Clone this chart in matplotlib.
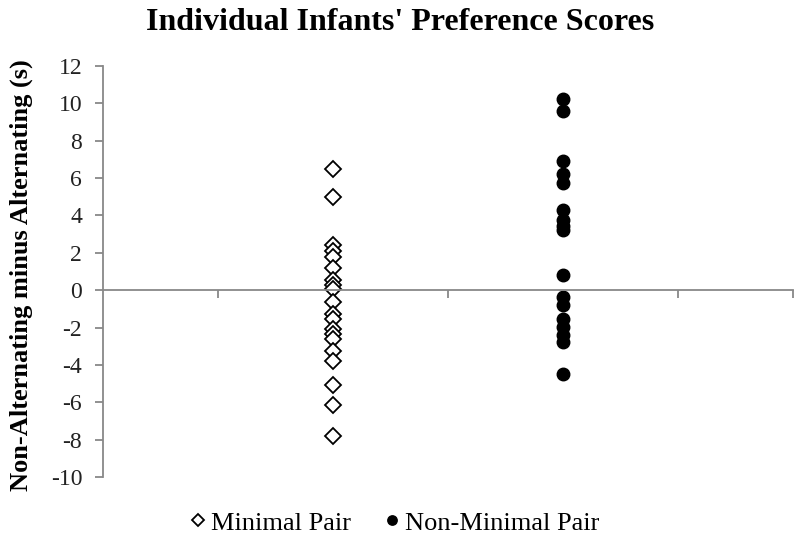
import numpy as np
import matplotlib
matplotlib.use("Agg")
import matplotlib.pyplot as plt

# preference scores (s)
minimal_pair = [6.5, 5.0, 2.4, 2.1, 1.8, 1.2, 0.55, 0.3, 0.05, -0.65, -1.3, -1.55,
                -2.1, -2.35, -2.6, -3.25, -3.8, -5.1, -6.15, -7.8]
non_minimal_pair = [10.25, 9.6, 6.9, 6.2, 5.75, 4.3, 3.75, 3.45, 3.2, 0.8, -0.35,
                    -0.8, -1.55, -1.95, -2.4, -2.75, -4.5]
yticks = list(range(-10, 13, 2))

serif = ["Liberation Serif", "DejaVu Serif"]
plt.rcParams["font.family"] = serif
plt.rcParams["axes.unicode_minus"] = False

fig = plt.figure(figsize=(8, 5.42), dpi=100)
ax = fig.add_axes([103 / 800, 1 - 477 / 542, 690 / 800, 411 / 542])

ax.plot(np.full(len(minimal_pair), 1.0), minimal_pair, linestyle="none", marker="D",
        markersize=8.5, markerfacecolor="white", markeredgecolor="black",
        markeredgewidth=1.3, label="Minimal Pair")
ax.plot(np.full(len(non_minimal_pair), 2.0), non_minimal_pair, linestyle="none",
        marker="o", markersize=9, color="black", label="Non-Minimal Pair")

ax.set_xlim(0, 3)
ax.set_ylim(-10, 12)
ax.set_yticks(yticks)
ax.set_xticks([0.5, 1.5, 2.5, 3.0])
ax.set_xticklabels([])

for s in ["top", "right"]:
    ax.spines[s].set_visible(False)
ax.spines["bottom"].set_position(("data", 0))
ax.spines["bottom"].set_color("#888888")
ax.spines["left"].set_color("#888888")
ax.spines["bottom"].set_linewidth(1.3)
ax.spines["left"].set_linewidth(1.3)
ax.tick_params(axis="x", direction="out", length=6, width=1.3, color="#888888")
ax.tick_params(axis="y", direction="out", length=6, width=1.3, color="#888888",
               labelsize=17, pad=9, labelcolor="#222222")

ax.set_ylabel("Non-Alternating minus Alternating (s)", fontsize=19,
              fontweight="bold")
ax.yaxis.set_label_coords(-0.102, 0.49)
fig.suptitle("Individual Infants' Preference Scores", fontsize=23, fontweight="bold",
             y=0.985)

fig.legend(loc="lower center", bbox_to_anchor=(0.49, -0.03), ncol=2, frameon=False,
           fontsize=19, handletextpad=0.0, columnspacing=1.05, handlelength=1.0,
           markerscale=0.75)

fig.savefig("out.png", dpi=100)
